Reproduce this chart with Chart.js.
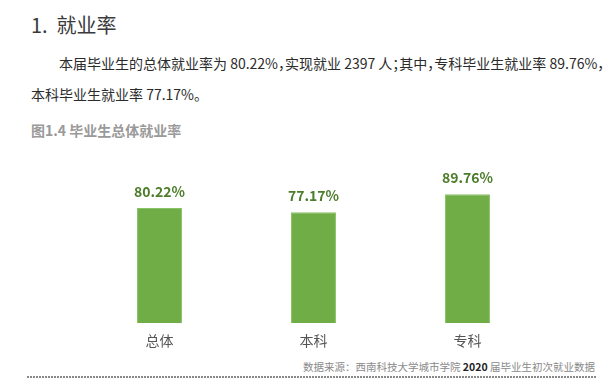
<!DOCTYPE html>
<html>
<head>
<meta charset="utf-8">
<script src="https://cdn.jsdelivr.net/npm/chart.js@4"></script>
<style>
  body { margin: 0; width: 616px; height: 388px; background: #fff; position: relative; overflow: hidden;
         font-family: "Noto Sans CJK SC", "Noto Sans", sans-serif; }
  .abs { position: absolute; white-space: nowrap; }
  #title { left: 31px; top: 15px; font-size: 20px; line-height: 20px; color: #3a3a3a; }
  .para { font-size: 14px; line-height: 14px; color: #2b2b2b; font-feature-settings: "halt"; }
  #p1 { left: 59px; top: 56px; }
  #p2 { left: 31px; top: 87px; }
  #caption { left: 31px; top: 123px; font-size: 14px; line-height: 14px; color: #9a9a9a; font-weight: bold; }
  #source { right: 21px; top: 362px; font-size: 10.5px; line-height: 10.5px; color: #8a8a8a; }
  #source b { color: #222; }
  #rule { left: 27px; top: 376px; width: 570px; height: 2px;
          background: repeating-linear-gradient(90deg, #888 0 2px, transparent 2px 3px); }
  #wrap { position: absolute; left: 0; top: 150px; width: 616px; height: 203px; }
</style>
</head>
<body>
<div class="abs" id="title">1.&nbsp; 就业率</div>
<div class="abs para" id="p1">本届毕业生的总体就业率为 80.22%，实现就业 2397 人；其中，专科毕业生就业率 89.76%，</div>
<div class="abs para" id="p2">本科毕业生就业率 77.17%。</div>
<div class="abs" id="caption">图1.4 毕业生总体就业率</div>
<div id="wrap"><canvas id="chart"></canvas></div>
<div class="abs" id="source">数据来源：西南科技大学城市学院 <b>2020</b> 届毕业生初次就业数据</div>
<div class="abs" id="rule"></div>

<script>
// chart data
const categories = ["总体", "本科", "专科"];
const rates = [80.22, 77.17, 89.76];

// value labels above each bar
const valueLabels = {
  id: "valueLabels",
  afterDatasetsDraw(chart) {
    const ctx = chart.ctx;
    const meta = chart.getDatasetMeta(0);
    ctx.save();
    ctx.font = "bold 14px 'Noto Sans CJK SC'";
    ctx.fillStyle = "#4d7d2b";
    ctx.textAlign = "center";
    ctx.textBaseline = "middle";
    meta.data.forEach((bar, i) => {
      ctx.fillText(rates[i].toFixed(2) + "%", bar.x, bar.y - 16.6);
    });
    ctx.restore();
  }
};

new Chart(document.getElementById("chart"), {
  type: "bar",
  data: {
    labels: categories,
    datasets: [{
      data: rates,
      backgroundColor: "#70ad47",
      borderColor: "#8cc266",
      borderWidth: 1,
      barPercentage: 0.584,
      categoryPercentage: 0.5
    }]
  },
  options: {
    responsive: true,
    maintainAspectRatio: false,
    animation: false,
    layout: { padding: { left: 82.5, right: 71.5, top: 29.5, bottom: 0 } },
    plugins: { legend: { display: false }, tooltip: { enabled: false } },
    scales: {
      x: {
        afterFit(scale) { scale.height = 30; },
        grid: { display: false, drawTicks: false },
        border: { display: false },
        ticks: { padding: 9.6, color: "#555", font: { size: 14, family: "Noto Sans CJK SC" } }
      },
      y: { display: false, min: 0, max: 100 }
    }
  },
  plugins: [valueLabels]
});
</script>
</body>
</html>
